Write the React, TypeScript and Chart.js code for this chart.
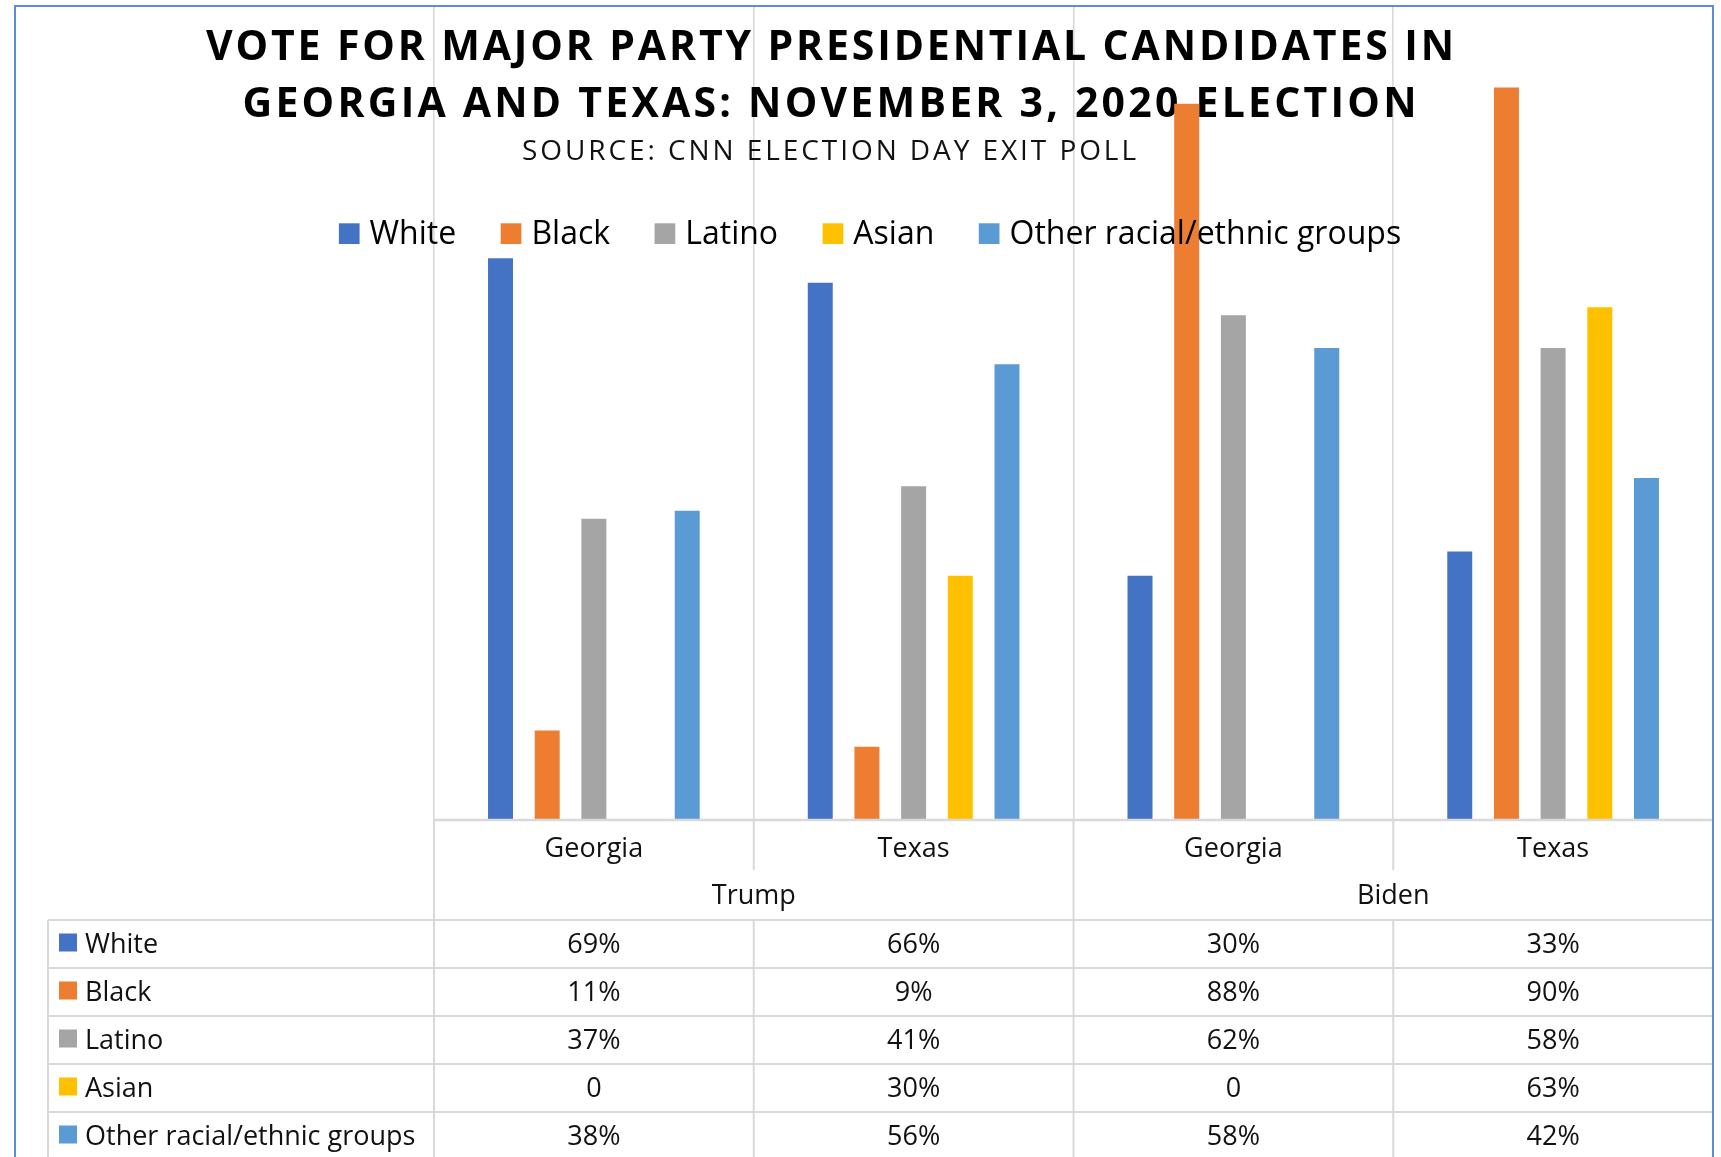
import React, { useEffect, useRef } from 'react';
import { Chart, registerables } from 'chart.js';

Chart.register(...registerables);

// ---- data ----
const CATEGORIES = ['Georgia', 'Texas', 'Georgia', 'Texas'];
const CANDIDATES = ['Trump', 'Biden'];
const GROUPS = ['White', 'Black', 'Latino', 'Asian', 'Other racial/ethnic groups'];
const WHITE = [69, 66, 30, 33];
const BLACK = [11, 9, 88, 90];
const LATINO = [37, 41, 62, 58];
const ASIAN = [0, 30, 0, 63];
const OTHER = [38, 56, 58, 42];
const SERIES = [WHITE, BLACK, LATINO, ASIAN, OTHER];
const COLORS = ['#4472C4', '#ED7D31', '#A5A5A5', '#FFC000', '#5B9BD5'];
const TITLE_LINES = [
  'VOTE FOR MAJOR PARTY PRESIDENTIAL CANDIDATES IN',
  'GEORGIA AND TEXAS: NOVEMBER 3, 2020 ELECTION',
];
const SUBTITLE = 'SOURCE: CNN ELECTION DAY EXIT POLL';

const FONT = '"Open Sans", "Noto Sans", "DejaVu Sans", sans-serif';
const GRID = '#d9d9d9';
const BORDER = '#5b8cd8';

const fmt = (v: number) => (v === 0 ? '0' : `${v}%`);

function spacedText(ctx: CanvasRenderingContext2D, text: string, cx: number, baseline: number, target: number) {
  const w = ctx.measureText(text).width;
  const n = text.length;
  const s = n > 1 ? (target - w) / (n - 1) : 0;
  const left = cx - target / 2;
  ctx.textAlign = 'left';
  for (let i = 0; i < n; i++) {
    const x = left + ctx.measureText(text.slice(0, i)).width + i * s;
    ctx.fillText(text[i], x, baseline);
  }
}

const titlePlugin = {
  id: 'titleUnder',
  beforeDatasetsDraw(chart: any) {
    const ctx = chart.ctx as CanvasRenderingContext2D;
    ctx.save();
    ctx.fillStyle = '#000';
    ctx.textBaseline = 'alphabetic';
    ctx.font = `bold 41px ${FONT}`;
    spacedText(ctx, TITLE_LINES[0], 830, 59.5, 1248);
    spacedText(ctx, TITLE_LINES[1], 829.5, 117, 1174);
    ctx.font = `28px ${FONT}`;
    ctx.fillStyle = '#111';
    spacedText(ctx, SUBTITLE, 829, 160, 614);
    ctx.restore();
  },
};

const legendPlugin = {
  id: 'legendOver',
  afterDatasetsDraw(chart: any) {
    const ctx = chart.ctx as CanvasRenderingContext2D;
    ctx.save();
    ctx.font = `32px ${FONT}`;
    ctx.textBaseline = 'alphabetic';
    ctx.textAlign = 'left';
    const box = 20.7;
    const pad = 10;
    const gap = 44.5;
    const widths = GROUPS.map((g) => ctx.measureText(g).width);
    const total = widths.reduce((a, w) => a + box + pad + w, 0) + gap * (GROUPS.length - 1);
    let x = 870 - total / 2;
    GROUPS.forEach((g, i) => {
      ctx.fillStyle = COLORS[i];
      ctx.fillRect(x, 223.3, box, box);
      ctx.fillStyle = '#000';
      ctx.fillText(g, x + box + pad, 244);
      x += box + pad + widths[i] + gap;
    });
    ctx.restore();
  },
};

const tablePlugin = {
  id: 'dataTable',
  afterDraw(chart: any) {
    const ctx = chart.ctx as CanvasRenderingContext2D;
    const xs = chart.scales.x;
    const ys = chart.scales.y;
    const area = chart.chartArea;
    const n = CATEGORIES.length;
    const catW = (area.right - area.left) / n;
    const y0 = ys.getPixelForValue(0);
    const bottom = chart.height;
    const tableLeft = 48;
    const rowTop = y0 + 100;
    const rowH = 48;
    const perCand = n / CANDIDATES.length;

    ctx.save();
    ctx.strokeStyle = GRID;
    ctx.lineWidth = 2;
    const line = (x1: number, y1: number, x2: number, y2: number) => {
      ctx.beginPath();
      ctx.moveTo(x1, y1);
      ctx.lineTo(x2, y2);
      ctx.stroke();
    };

    // axis line
    ctx.lineWidth = 2.5;
    line(area.left, y0, area.right, y0);
    ctx.lineWidth = 2;

    // vertical separators
    for (let i = 0; i < n; i++) {
      const x = area.left + i * catW;
      if (i % perCand === 0) {
        line(x, y0, x, bottom);
      } else {
        line(x, y0, x, y0 + 50);
        line(x, rowTop, x, bottom);
      }
    }
    // row lines
    for (let r = 0; r <= GROUPS.length; r++) {
      const y = rowTop + r * rowH;
      line(tableLeft, y, area.right, y);
    }
    line(tableLeft, rowTop, tableLeft, bottom);

    // texts
    ctx.fillStyle = '#111';
    ctx.font = `27px ${FONT}`;
    ctx.textBaseline = 'alphabetic';
    ctx.textAlign = 'center';
    CATEGORIES.forEach((c, i) => {
      ctx.fillText(c, xs.getPixelForValue(i), y0 + 37);
    });
    CANDIDATES.forEach((c, k) => {
      const a = xs.getPixelForValue(k * perCand);
      const b = xs.getPixelForValue(k * perCand + perCand - 1);
      ctx.fillText(c, (a + b) / 2, y0 + 84);
    });
    GROUPS.forEach((g, r) => {
      const top = rowTop + r * rowH;
      ctx.fillStyle = COLORS[r];
      ctx.fillRect(59, top + 13.5, 18, 18);
      ctx.fillStyle = '#111';
      ctx.textAlign = 'left';
      ctx.fillText(g, 85, top + 32.5);
      ctx.textAlign = 'center';
      SERIES[r].forEach((v, i) => {
        ctx.fillText(fmt(v), xs.getPixelForValue(i), top + 32.5);
      });
    });

    // chart outer border
    ctx.strokeStyle = BORDER;
    ctx.lineWidth = 2;
    ctx.beginPath();
    ctx.moveTo(15, bottom);
    ctx.lineTo(15, 6);
    ctx.lineTo(1713, 6);
    ctx.lineTo(1713, bottom);
    ctx.stroke();
    ctx.restore();
  },
};

export default function App() {
  const ref = useRef<HTMLCanvasElement | null>(null);

  useEffect(() => {
    if (!ref.current) return;
    const chart = new Chart(ref.current, {
      type: 'bar',
      data: {
        labels: CATEGORIES,
        datasets: GROUPS.map((g, i) => ({
          label: g,
          data: SERIES[i],
          backgroundColor: COLORS[i],
          borderWidth: 0,
          categoryPercentage: 0.73,
          barPercentage: 0.535,
        })),
      },
      options: {
        responsive: false,
        animation: false,
        devicePixelRatio: 1,
        layout: { padding: { left: 434, right: 8, top: 6, bottom: 337 } },
        plugins: {
          legend: { display: false },
          title: { display: false },
          tooltip: { enabled: false },
        },
        scales: {
          x: {
            display: true,
            grid: { display: true, offset: true, color: GRID, lineWidth: 1.6, drawTicks: false },
            border: { display: false },
            ticks: { display: false },
          },
          y: { display: false, min: 0, max: 100 },
        },
      },
      plugins: [titlePlugin, legendPlugin, tablePlugin],
    });
    return () => chart.destroy();
  }, []);

  return (
    <div style={{ position: 'absolute', left: 0, top: 0, width: 1721, height: 1157, background: '#fff' }}>
      <canvas ref={ref} width={1721} height={1157} style={{ display: 'block' }} />
    </div>
  );
}
